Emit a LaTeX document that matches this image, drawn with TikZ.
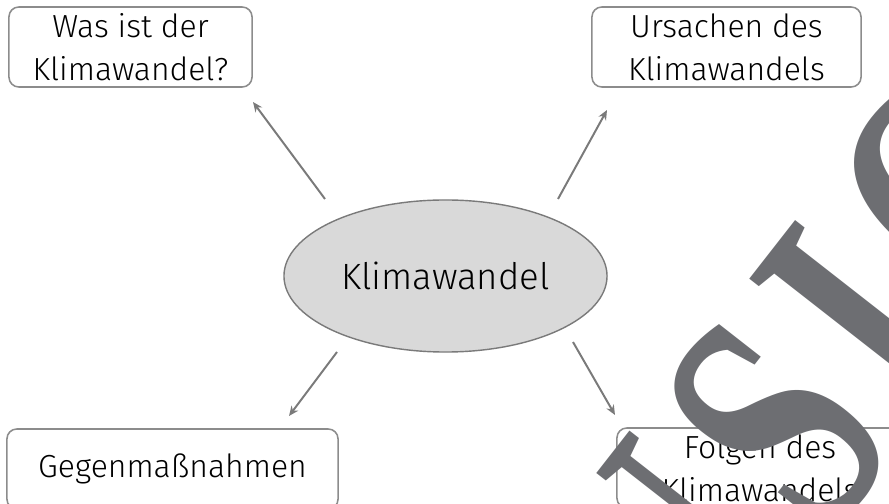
\documentclass[tikz,border=0pt]{standalone}
\usepackage{fontspec}
\setmainfont{Fira Sans}[UprightFont=* Light]
\newfontfamily\wmfont{Liberation Serif}
\usetikzlibrary{shapes.geometric,arrows.meta}
\definecolor{boxgray}{HTML}{8C8C8C}
\definecolor{arrgray}{HTML}{7A7A7A}
\definecolor{ellfill}{HTML}{D9D9D9}
\definecolor{wmgray}{HTML}{6D6E72}
\tikzset{
	topic/.style={draw=boxgray, line width=1.1pt, rounded corners=7pt, align=center,
		minimum height=2cm, inner sep=0pt, font=\fontsize{22.7}{30.6}\selectfont},
	pfeil/.style={->, draw=arrgray, line width=1.4pt},
}
\newcommand{\wmgap}{\kern1cm}
\begin{document}
\begin{tikzpicture}[x=0.025cm, y=-0.025cm, >={Stealth[length=7pt,width=6pt]}]
	\useasboundingbox (0,0) rectangle (889,504);
	\begin{scope}
		\clip (0,0) rectangle (889,504);
		% Themen
		\node [topic, minimum width=6.075cm] (was) at (130.5,47) {Was ist der\\Klimawandel?};
		\node [topic, minimum width=6.725cm] (ursachen) at (726.5,47) {Ursachen des\\Klimawandels};
		\node [topic, minimum width=8.275cm] (gegen) at (172.5,469) {Gegenmaßnahmen};
		\node [topic, minimum width=7.15cm] (folgen) at (760,468) {Folgen des\\Klimawandels};
		\node [ellipse, draw=arrgray, fill=ellfill, line width=1pt, minimum width=8.075cm,
			minimum height=3.8cm, font=\fontsize{26}{30}\selectfont] (klima) at (445.5,276) {Klimawandel};
		% Pfeile
		\coordinate (w0) at (325,199);
		\coordinate (w1) at (253,102);
		\coordinate (u0) at (558,199);
		\coordinate (u1) at (607,110);
		\coordinate (g0) at (337,352);
		\coordinate (g1) at (289,416);
		\coordinate (f0) at (573,342);
		\coordinate (f1) at (615,415);
		\draw [pfeil] (w0) -- (w1);
		\draw [pfeil] (u0) -- (u1);
		\draw [pfeil] (g0) -- (g1);
		\draw [pfeil] (f0) -- (f1);
		% Wasserzeichen
		\begin{scope}[shift={(585.2,851.1)}, rotate=52, xscale=0.68]
			\node [transform shape, anchor=base west, inner sep=0pt, text=wmgray,
				font=\wmfont\bfseries\fontsize{242}{242}\selectfont] (stempel) at (0,0)
				{A\wmgap N\wmgap S\wmgap I\wmgap C\wmgap H\wmgap T};
		\end{scope}
	\end{scope}
\end{tikzpicture}
\end{document}
